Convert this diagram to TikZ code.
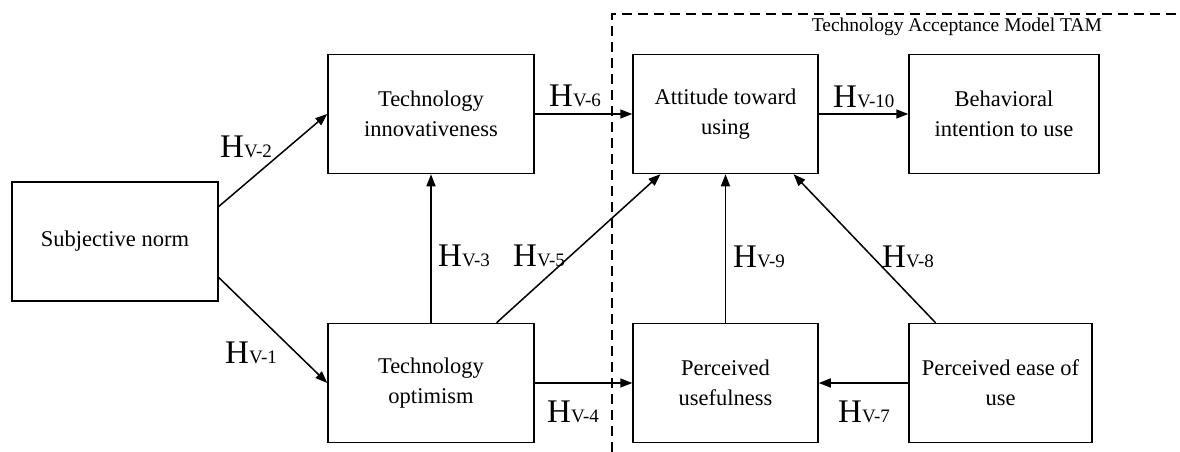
\documentclass[tikz,border=0pt]{standalone}
\usepackage{fontspec}
\setmainfont{Liberation Serif}
\usetikzlibrary{arrows.meta,calc}
\newcommand{\hyp}[1]{{\fontsize{33}{33}\selectfont H}{\fontsize{19}{19}\selectfont #1}}
\begin{document}
\begin{tikzpicture}[x=1pt,y=-1pt,
  box/.style={draw,line width=1.5pt,minimum width=206pt,minimum height=119pt,inner sep=0pt,align=center,
    font=\fontsize{22.5}{30}\selectfont},
  conn/.style={line width=1.5pt,-{Triangle[length=12pt,width=9pt]}},
  hlab/.style={anchor=base west,inner sep=0pt}]
\useasboundingbox (0,0) rectangle (1180,452);
% dashed region
\draw[line width=1.3pt,dash pattern=on 10pt off 6pt] (612,452) -- (612,14) -- (1180,14);
\node[anchor=base east,inner sep=0pt,font=\fontsize{19.5}{22}\selectfont] (tam) at (1102,32) {Technology Acceptance Model TAM};
% boxes
\node[box] (sn) at (115,241.5) {Subjective norm};
\node[box] (ti) at (431,114) {Technology\\innovativeness};
\node[box] (to) at (431,383) {Technology\\optimism};
\node[box,minimum width=185pt] (att) at (725.5,114) {Attitude toward\\using};
\node[box,minimum width=190pt] (bi) at (1004,114) {Behavioral\\intention to use};
\node[box,minimum width=185pt] (pu) at (725.5,383) {Perceived\\usefulness};
\node[box,minimum width=183pt] (peu) at (1000.5,383) {Perceived ease of\\use};
% connectors
\draw[conn] ([yshift=35pt]sn.east) -- (ti.west);
\draw[conn] ([yshift=-36pt]sn.east) -- (to.west);
\draw[conn] (to.north) -- (ti.south);
\draw[conn] ($(to.north west)!0.816!(to.north east)$) -- ($(att.south west)!0.151!(att.south east)$);
\draw[conn] (ti.east) -- (att.west);
\draw[conn] (att.east) -- (bi.west);
\draw[conn] (to.east) -- (pu.west);
\draw[conn] (peu.west) -- (pu.east);
\draw[conn] (pu.north) -- (att.south);
\draw[conn] ($(peu.north west)!0.148!(peu.north east)$) -- ($(att.south west)!0.865!(att.south east)$);
% labels
\node[hlab] (h2) at (220,157) {\hyp{V-2}};
\node[hlab] (h1) at (225,363) {\hyp{V-1}};
\node[hlab] (h3) at (438,266) {\hyp{V-3}};
\node[hlab] (h5) at (513,266) {\hyp{V-5}};
\node[hlab] (h4) at (547,422) {\hyp{V-4}};
\node[hlab] (h6) at (549,106) {\hyp{V-6}};
\node[hlab] (h10) at (833,107) {\hyp{V-10}};
\node[hlab] (h9) at (733,267) {\hyp{V-9}};
\node[hlab] (h8) at (882,267) {\hyp{V-8}};
\node[hlab] (h7) at (838,422) {\hyp{V-7}};
\end{tikzpicture}
\end{document}
